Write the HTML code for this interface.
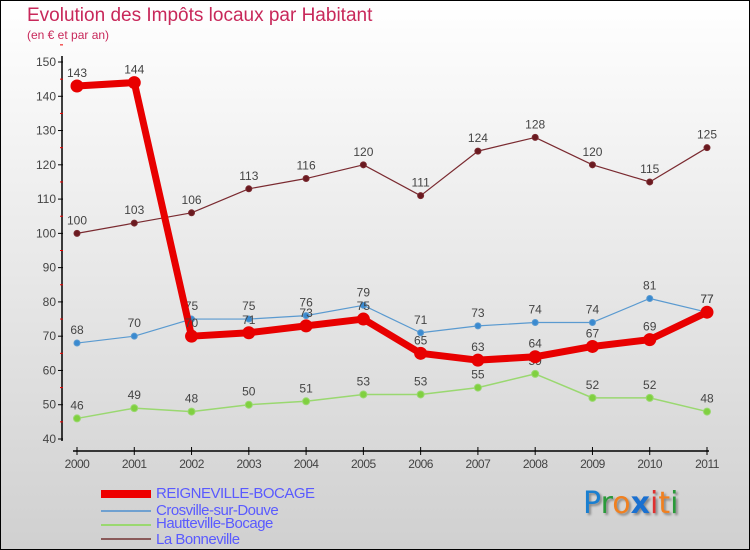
<!DOCTYPE html>
<html><head><meta charset="utf-8"><style>
body{margin:0;}
#wrap{position:relative;width:748px;height:548px;border:1px solid #000;background:linear-gradient(#fff,#d0d0d0);font-family:"Liberation Sans",sans-serif;overflow:hidden}
.t{position:absolute;color:#c8285a}
.lg{position:absolute;left:155px;font-size:15px;color:#5a5aff;letter-spacing:-0.5px}
.sw{position:absolute;left:100px;width:50px}
</style></head><body>
<div id="wrap">
<div class="t" style="left:26px;top:4px;font-size:19px">Evolution des Impôts locaux par Habitant</div>
<div class="t" style="left:26px;top:27px;font-size:12px">(en € et par an)</div>
<svg id="c" width="750" height="480" style="position:absolute;left:0;top:0"></svg>
<div class="sw" style="top:489px;height:8px;background:#e00"></div>
<div class="lg" style="top:484px">REIGNEVILLE-BOCAGE</div>
<div class="sw" style="top:509px;height:2px;background:#6fa0d0"></div>
<div class="lg" style="top:501px">Crosville-sur-Douve</div>
<div class="sw" style="top:523px;height:2px;background:#9ad870"></div>
<div class="lg" style="top:514px">Hautteville-Bocage</div>
<div class="sw" style="top:537px;height:2px;background:#8a5a5a"></div>
<div class="lg" style="top:530px">La Bonneville</div>
<div style="position:absolute;left:582px;top:485px;font-size:30px;font-family:'DejaVu Sans',sans-serif;text-shadow:2px 2px 2px #888"><span style="color:#1a7fd0">P</span><span style="color:#2a9a3a">r</span><span style="color:#f08020">o</span><span style="color:#1a70d0;font-weight:bold">x</span><span style="color:#e03030">i</span><span style="color:#f08020">t</span><span style="color:#2a9a3a">i</span></div>
</div>
<script>
const years=[2000,2001,2002,2003,2004,2005,2006,2007,2008,2009,2010,2011];
const yTicks=[40,50,60,70,80,90,100,110,120,130,140,150];
const reigneville=[143,144,70,71,73,75,65,63,64,67,69,77];
const crosville=[68,70,75,75,76,79,71,73,74,74,81,77];
const hautteville=[46,49,48,50,51,53,53,55,59,52,52,48];
const bonneville=[100,103,106,113,116,120,111,124,128,120,115,125];
const svg=document.getElementById('c');const NS='http://www.w3.org/2000/svg';
const xS=i=>76+i*(630/11);const yS=v=>438-(v-40)*(377/110);
function mk(t,a,p){const e=document.createElementNS(NS,t);for(const k in a)e.setAttribute(k,a[k]);(p||svg).appendChild(e);return e;}
let ax=mk('line',{x1:61,y1:55,x2:61,y2:440,stroke:'#000','stroke-width':1.5});


yTicks.forEach(v=>{
 mk('line',{x1:57,x2:62,y1:yS(v),y2:yS(v),stroke:'#000'});
 mk('line',{x1:59,x2:62,y1:yS(v+5),y2:yS(v+5),stroke:'#e00'});
 const t=mk('text',{x:55,y:yS(v)+4,'text-anchor':'end','font-size':12,fill:'#444','font-family':'Liberation Sans'});t.textContent=v;
 
 
});
let xa=mk('line',{x1:72,y1:450,x2:708,y2:450,stroke:'#000','stroke-width':1.5});


years.forEach((y,i)=>{
 mk('line',{x1:xS(i),x2:xS(i),y1:446,y2:454,stroke:'#000'});
 const t=mk('text',{x:xS(i),y:467,'text-anchor':'middle','font-size':12,fill:'#444','font-family':'Liberation Sans','letter-spacing':'-0.5'});t.textContent=y;
 
 
});
function series(d,col,w,r,fill,name){
 const g=mk('g',{});
 
 
 mk('polyline',{points:d.map((v,i)=>xS(i)+','+yS(v)).join(' '),fill:'none',stroke:col,'stroke-width':w,'stroke-linejoin':'round'},g);
 d.forEach((v,i)=>{
  const c=mk('circle',{cx:xS(i),cy:yS(v),r:r,fill:fill,stroke:col},g);
  
  
  const t=mk('text',{x:xS(i),y:yS(v)-9,'text-anchor':'middle','font-size':12,fill:'#444','font-family':'Liberation Sans'},g);t.textContent=v;
  
  
 });
}
series(bonneville,'#7a2a30',1.2,3,'#6a1a20','bonneville');
series(crosville,'#5a9ad0',1.2,3,'#3a8ad0','crosville');
series(hautteville,'#9ad870',1.5,3.5,'#80d040','hautteville');
series(reigneville,'#e80000',7,6,'#e80000','reigneville');
</script>
</body></html>
